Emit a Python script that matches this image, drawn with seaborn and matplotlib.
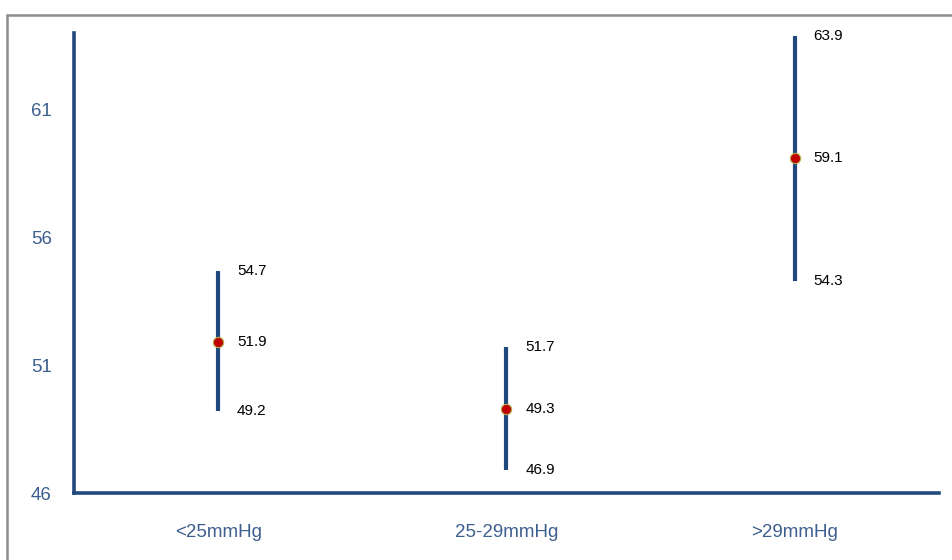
import matplotlib
matplotlib.use("Agg")
import matplotlib.pyplot as plt
from matplotlib.lines import Line2D
import seaborn as sns
import pandas as pd

# Pressure groups with mean and 95% interval bounds
categories = ["<25mmHg", "25-29mmHg", ">29mmHg"]
means = [51.9, 49.3, 59.1]
lower = [49.2, 46.9, 54.3]
upper = [54.7, 51.7, 63.9]
yticks = [46, 51, 56, 61]

df = pd.DataFrame({"group": categories, "mean": means, "lo": lower, "hi": upper})

sns.set_theme(style="white")
plt.rcParams["font.family"] = ["Liberation Sans Narrow", "Liberation Sans", "DejaVu Sans"]

fig = plt.figure(figsize=(9.53, 5.6), dpi=100)
ax = fig.add_axes([74 / 953, 67 / 560, 865 / 953, 460 / 560])

navy = "#1F497D"
tick_col = "#3D5F8F"

# interval bars
ax.vlines(x=range(len(df)), ymin=df["lo"], ymax=df["hi"], color=navy, linewidth=3.0, zorder=2)

# mean markers
sns.scatterplot(data=df, x="group", y="mean", ax=ax, s=55, color="#C00000",
                edgecolor="#B5B04A", linewidth=0.8, zorder=3, legend=False)

# value labels
for i, row in df.iterrows():
    for val in (row["hi"], row["mean"], row["lo"]):
        ax.annotate(f"{val:.1f}", xy=(i, val), xytext=(13.5, 0), textcoords="offset points",
                    ha="left", va="center", fontsize=11, color="black",
                    family=["Liberation Sans", "DejaVu Sans"])

ax.set_xlim(-0.5, 2.5)
ax.set_ylim(46, 64)
ax.set_yticks(yticks)
ax.set_yticklabels([str(t) for t in yticks])
ax.set_xlabel("")
ax.set_ylabel("")

for side in ("top", "right"):
    ax.spines[side].set_visible(False)
for side in ("left", "bottom"):
    ax.spines[side].set_color(navy)
    ax.spines[side].set_linewidth(2.6)

ax.tick_params(axis="y", length=0, pad=16, labelsize=13.5, labelcolor=tick_col)
ax.tick_params(axis="x", length=0, pad=22, labelsize=13.5, labelcolor=tick_col)

# outer frame
frame_col = "#8C8C8C"
top = 1 - 15 / 560
fig.add_artist(Line2D([7 / 953, 7 / 953], [0, top], transform=fig.transFigure,
                      color=frame_col, linewidth=1.8))
fig.add_artist(Line2D([7 / 953, 1], [top, top], transform=fig.transFigure,
                      color=frame_col, linewidth=1.8))

fig.savefig("out.png", dpi=100)
